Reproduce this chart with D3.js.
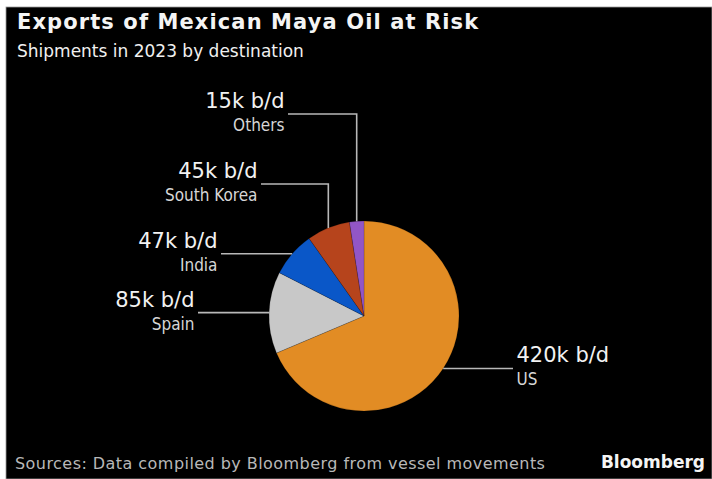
<!DOCTYPE html>
<html>
<head>
<meta charset="utf-8">
<script src="https://cdn.jsdelivr.net/npm/d3@7"></script>
<style>
  html, body { margin: 0; padding: 0; background: #ffffff; }
  svg { display: block; }
</style>
</head>
<body>
<svg id="chart" width="712" height="479"></svg>
<script>
// Destinations of Maya crude shipments, 2023 (thousand barrels per day)
const destinations = ["US", "Spain", "India", "South Korea", "Others"];
const volumes = [420, 85, 47, 45, 15];
const valueLabels = ["420k b/d", "85k b/d", "47k b/d", "45k b/d", "15k b/d"];
const sliceColors = ["#e28c24", "#c8c8c8", "#0a57c8", "#b6441c", "#9256c6"];

// Callout layout: elbow height (for vertical leaders) and where the leader ends
const calloutLayout = [
  { side: "right", lineEndX: 513, riseToY: null },
  { side: "left",  lineEndX: 198, riseToY: null },
  { side: "left",  lineEndX: 221, riseToY: null },
  { side: "left",  lineEndX: 261, riseToY: 184 },
  { side: "left",  lineEndX: 288, riseToY: 114 }
];

const svg = d3.select("#chart");
const W = 712, H = 479;

// dark panel
svg.append("rect")
  .attr("x", 6).attr("y", 7)
  .attr("width", W - 6).attr("height", H - 7)
  .attr("fill", "#000000")
  .attr("stroke", "#9a9a9a").attr("stroke-width", 0.8);

// titles
svg.append("text")
  .attr("x", 17).attr("y", 29)
  .attr("font-family", "DejaVu Sans")
  .attr("font-weight", "bold")
  .attr("font-size", 21)
  .attr("letter-spacing", 1.1)
  .attr("fill", "#f4f4f4")
  .text("Exports of Mexican Maya Oil at Risk");

svg.append("text")
  .attr("x", 17).attr("y", 57)
  .attr("font-family", "DejaVu Sans")
  .attr("font-size", 17)
  .attr("fill", "#f0f0f0")
  .text("Shipments in 2023 by destination");

// pie
const cx = 364, cy = 316, radius = 95;
const data = destinations.map((d, i) => ({
  name: d, value: volumes[i], label: valueLabels[i], color: sliceColors[i], layout: calloutLayout[i]
}));

const pie = d3.pie().value(d => d.value).sort(null).startAngle(0).endAngle(2 * Math.PI);
const arcs = pie(data);
const arc = d3.arc().innerRadius(0).outerRadius(radius);

const g = svg.append("g").attr("transform", `translate(${cx},${cy})`);
g.selectAll("path.slice")
  .data(arcs)
  .join("path")
  .attr("class", "slice")
  .attr("d", arc)
  .attr("fill", d => d.data.color)
  .attr("stroke", "#000")
  .attr("stroke-opacity", 0.25)
  .attr("stroke-width", 0.6);

// leaders and labels
const lineColor = "#b8b8b8";
arcs.forEach(a => {
  const mid = (a.startAngle + a.endAngle) / 2;
  const ex = cx + radius * Math.sin(mid);
  const ey = cy - radius * Math.cos(mid);
  const L = a.data.layout;
  let pts;
  let lineY;
  if (L.riseToY !== null) {
    lineY = L.riseToY;
    pts = [[ex, ey], [ex, lineY], [L.lineEndX, lineY]];
  } else {
    lineY = ey;
    pts = [[ex, ey], [L.lineEndX, lineY]];
  }
  svg.append("path")
    .attr("d", d3.line()(pts))
    .attr("fill", "none")
    .attr("stroke", lineColor)
    .attr("stroke-width", 1.6);

  const right = L.side === "right";
  const tx = right ? L.lineEndX + 3.5 : L.lineEndX - 3.5;
  const anchor = right ? "start" : "end";

  svg.append("text")
    .attr("x", tx).attr("y", lineY - 6)
    .attr("text-anchor", anchor)
    .attr("font-family", "DejaVu Sans")
    .attr("font-size", 21)
    .attr("fill", "#f2f2f2")
    .text(a.data.label);

  svg.append("text")
    .attr("x", tx).attr("y", lineY + 17)
    .attr("text-anchor", anchor)
    .attr("font-family", "DejaVu Sans Condensed, DejaVu Sans")
    .attr("font-stretch", "condensed")
    .attr("font-size", 17)
    .attr("fill", "#d6d6d6")
    .text(a.data.name);
});

// footer
svg.append("text")
  .attr("x", 15).attr("y", 469)
  .attr("font-family", "DejaVu Sans")
  .attr("font-size", 16)
  .attr("letter-spacing", 0.45)
  .attr("fill", "#b8b8b8")
  .text("Sources: Data compiled by Bloomberg from vessel movements");

svg.append("text")
  .attr("x", 705).attr("y", 468)
  .attr("text-anchor", "end")
  .attr("font-family", "DejaVu Sans")
  .attr("font-weight", "bold")
  .attr("font-size", 17)
  .attr("fill", "#f4f4f4")
  .text("Bloomberg");
</script>
</body>
</html>
